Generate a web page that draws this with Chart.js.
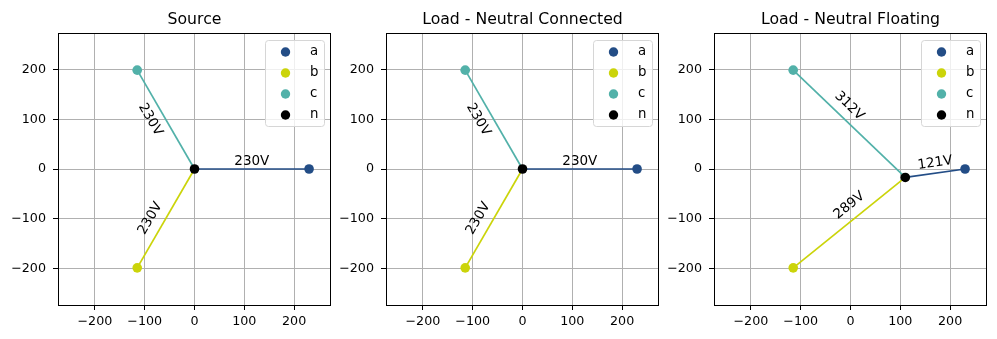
<!DOCTYPE html>
<html>
<head>
<meta charset="utf-8">
<script src="https://cdn.jsdelivr.net/npm/chart.js@4.4.1/dist/chart.umd.min.js"></script>
<style>
  html, body { margin: 0; padding: 0; background: #ffffff; }
  #wrap { position: relative; width: 997px; height: 339px; overflow: hidden; background: #ffffff; }
  .pane { position: absolute; top: 0; width: 340px; height: 339px; }
</style>
</head>
<body>
<div id="wrap">
  <div class="pane" style="left:0px"><canvas id="c0" width="340" height="339"></canvas></div>
  <div class="pane" style="left:328px"><canvas id="c1" width="340" height="339"></canvas></div>
  <div class="pane" style="left:656px"><canvas id="c2" width="340" height="339"></canvas></div>
</div>
<script>
// ---------------- data ----------------
const categories = ['a', 'b', 'c', 'n'];
const titles = ['Source', 'Load - Neutral Connected', 'Load - Neutral Floating'];

const sourceX = [230, -115, -115, 0];
const sourceY = [0, -199.2, 199.2, 0];
const connectedX = [230, -115, -115, 0];
const connectedY = [0, -199.2, 199.2, 0];
const floatingX = [230, -115, -115, 110];
const floatingY = [0, -199.2, 199.2, -17];

const sourceLabels = ['230V', '230V', '230V'];
const connectedLabels = ['230V', '230V', '230V'];
const floatingLabels = ['121V', '289V', '312V'];

const tickValues = [-200, -100, 0, 100, 200];
const axisLimit = 274;

// ---------------- style ----------------
const phaseColors = ['#234d86', '#cbd40a', '#52b1a9', '#000000'];
const FONT = "'DejaVu Sans', 'Liberation Sans', sans-serif";
const TICK_PX = 12.7;
const LABEL_PX = 13.5;
const LEGEND_PX = 13.3;
const TITLE_PX = 15.7;

function fmtTick(v) {
  return v < 0 ? '\u2212' + Math.abs(v) : String(v);
}

const panelPlugin = {
  id: 'panelPlugin',
  afterDatasetsDraw(chart) {
    const ctx = chart.ctx;
    const ca = chart.chartArea;
    const xs = chart.scales.x, ys = chart.scales.y;
    const o = chart.options.plugins.panelPlugin;
    // voltage labels
    ctx.save();
    ctx.font = LABEL_PX + 'px ' + FONT;
    ctx.fillStyle = '#000000';
    const nx = xs.getPixelForValue(o.px[3]), ny = ys.getPixelForValue(o.py[3]);
    for (let i = 0; i < 3; i++) {
      const px = xs.getPixelForValue(o.px[i]), py = ys.getPixelForValue(o.py[i]);
      const mx = (nx + px) / 2, my = (ny + py) / 2;
      const dx = px - nx, dy = py - ny;
      let ang = Math.atan2(dy, dx);
      if (ang > Math.PI / 2) ang -= Math.PI;
      if (ang < -Math.PI / 2) ang += Math.PI;
      const w = ctx.measureText(o.labels[i]).width;
      const h = LABEL_PX * 1.164;
      const W = Math.abs(w * Math.cos(ang)) + Math.abs(h * Math.sin(ang));
      const H = Math.abs(w * Math.sin(ang)) + Math.abs(h * Math.cos(ang));
      let cx, cy;
      if (Math.abs(dy) > Math.abs(dx)) { cx = mx - W / 2; cy = my; }
      else { cx = mx; cy = my - H / 2; }
      ctx.save();
      ctx.translate(cx, cy);
      ctx.rotate(ang);
      ctx.textAlign = 'center';
      ctx.textBaseline = 'middle';
      ctx.fillText(o.labels[i], 0, 0);
      ctx.restore();
    }
    ctx.restore();
    // frame
    ctx.save();
    ctx.strokeStyle = '#000000';
    ctx.lineWidth = 1;
    ctx.strokeRect(Math.round(ca.left) + 0.5, Math.round(ca.top) + 0.5,
                   Math.round(ca.right - ca.left) - 1, Math.round(ca.bottom - ca.top));
    ctx.restore();
  },
  afterDraw(chart) {
    const ctx = chart.ctx;
    const ca = chart.chartArea;
    const o = chart.options.plugins.panelPlugin;
    // title
    ctx.save();
    ctx.font = TITLE_PX + 'px ' + FONT;
    ctx.fillStyle = '#000000';
    ctx.textAlign = 'center';
    ctx.textBaseline = 'alphabetic';
    ctx.fillText(o.title, (ca.left + ca.right) / 2, 24);
    ctx.restore();
    // legend
    const items = chart.data.datasets.filter(d => d.inLegend);
    const bw = 59, bh = 86;
    const bx = ca.right - 7 - bw, by = ca.top + 7;
    ctx.save();
    ctx.beginPath();
    if (ctx.roundRect) ctx.roundRect(bx + 0.5, by + 0.5, bw, bh, 3);
    else ctx.rect(bx + 0.5, by + 0.5, bw, bh);
    ctx.fillStyle = 'rgba(255,255,255,0.8)';
    ctx.fill();
    ctx.strokeStyle = '#d6d6d6';
    ctx.lineWidth = 1;
    ctx.stroke();
    ctx.font = LEGEND_PX + 'px ' + FONT;
    ctx.textAlign = 'left';
    ctx.textBaseline = 'middle';
    items.forEach((d, k) => {
      const ry = by + 12 + k * 21;
      ctx.beginPath();
      ctx.arc(bx + 20.5, ry, 4.7, 0, Math.PI * 2);
      ctx.fillStyle = d.backgroundColor;
      ctx.fill();
      ctx.fillStyle = '#000000';
      ctx.fillText(d.label, bx + 45, ry);
    });
    ctx.restore();
  }
};

function makeChart(id, X, Y, labels, title) {
  const datasets = [];
  for (let i = 0; i < 4; i++) {
    datasets.push({
      label: categories[i],
      inLegend: true,
      data: [{ x: X[i], y: Y[i] }],
      backgroundColor: phaseColors[i],
      borderColor: phaseColors[i],
      borderWidth: 0,
      pointRadius: 4.8,
      showLine: false,
      order: i === 3 ? 0 : 1
    });
  }
  for (let i = 0; i < 3; i++) {
    datasets.push({
      label: 'line ' + categories[i],
      inLegend: false,
      data: [{ x: X[3], y: Y[3] }, { x: X[i], y: Y[i] }],
      borderColor: phaseColors[i],
      backgroundColor: phaseColors[i],
      borderWidth: 1.7,
      pointRadius: 0,
      showLine: true,
      fill: false,
      order: 2
    });
  }
  const scaleCommon = (pos) => ({
    type: 'linear',
    position: pos,
    min: -axisLimit,
    max: axisLimit,
    afterBuildTicks(s) { s.ticks = tickValues.map(v => ({ value: v })); },
    grid: {
      color: '#b0b0b0',
      lineWidth: 1,
      drawTicks: true,
      tickLength: 5,
      tickColor: '#000000',
      tickWidth: 1
    },
    border: { display: false },
    ticks: {
      color: '#000000',
      font: { family: FONT, size: TICK_PX },
      padding: pos === 'left' ? 7 : 4,
      maxRotation: 0,
      autoSkip: false,
      callback: (v) => fmtTick(v)
    }
  });
  const xs = scaleCommon('bottom');
  xs.afterFit = (s) => { s.height = 34; };
  const ys = scaleCommon('left');
  ys.afterFit = (s) => { s.width = 58; };
  return new Chart(document.getElementById(id), {
    type: 'scatter',
    data: { datasets },
    options: {
      responsive: false,
      animation: false,
      devicePixelRatio: 1,
      events: [],
      layout: { autoPadding: false, padding: { top: 33, right: 9, bottom: 0, left: 0 } },
      scales: { x: xs, y: ys },
      plugins: {
        legend: { display: false },
        title: { display: false },
        tooltip: { enabled: false },
        panelPlugin: { px: X, py: Y, labels: labels, title: title }
      }
    },
    plugins: [panelPlugin]
  });
}

makeChart('c0', sourceX, sourceY, sourceLabels, titles[0]);
makeChart('c1', connectedX, connectedY, connectedLabels, titles[1]);
makeChart('c2', floatingX, floatingY, floatingLabels, titles[2]);
</script>
</body>
</html>
